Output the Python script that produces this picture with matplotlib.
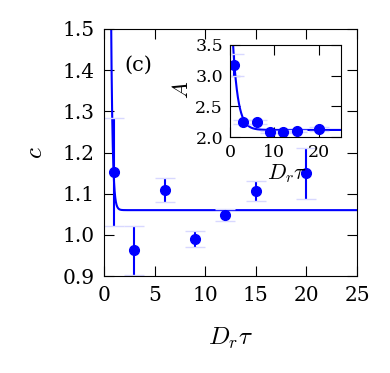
import numpy as np
import matplotlib
matplotlib.use('Agg')
import matplotlib.pyplot as plt

plt.rcParams['font.family'] = 'DejaVu Serif'
plt.rcParams['mathtext.fontset'] = 'cm'

# main panel: c vs D_r tau
drt = [1, 3, 6, 9, 12, 15, 20]
c_vals = [1.153, 0.962, 1.108, 0.990, 1.048, 1.106, 1.149]
c_err = [0.131, 0.060, 0.029, 0.019, 0.014, 0.024, 0.062]
# fit c = c_inf + a*exp(-x/b)
c_inf, c_a, c_b = 1.06, 50.0, 0.15

# inset: A vs D_r tau
drt_in = [1, 3, 6, 9, 12, 15, 20]
A_vals = [3.18, 2.25, 2.24, 2.08, 2.085, 2.10, 2.135]
A_err = [0.18, 0.03, 0.03, 0.02, 0.02, 0.02, 0.03]
A_inf, A_a, A_b = 2.115, 2.57, 1.13

blue = '#0000ff'
cap_col = '#d8d8ff'

fig = plt.figure(figsize=(3.9, 3.73), dpi=100)
ax = fig.add_axes([0.2667, 0.26, 0.6487, 0.6623])

xf = np.linspace(0.5, 25, 2000)
ax.plot(xf, c_inf + c_a * np.exp(-xf / c_b), color=blue, lw=1.5)
eb = ax.errorbar(drt, c_vals, yerr=c_err, fmt='o', color=blue, ms=7,
                 elinewidth=1.5, capsize=7, ecolor=blue)
for cap in eb[1]:
    cap.set_markeredgecolor(cap_col)
ax.set_xlim(0, 25)
ax.set_ylim(0.9, 1.5)
ax.set_xticks([0, 5, 10, 15, 20, 25])
ax.set_yticks([0.9, 1.0, 1.1, 1.2, 1.3, 1.4, 1.5])
ax.yaxis.set_major_formatter(matplotlib.ticker.FormatStrFormatter('%.1f'))
ax.tick_params(direction='in', top=True, right=True, length=7, labelsize=14.5, pad=7)
ax.set_xlabel(r'$D_r\tau$', fontsize=18, labelpad=15)
ax.set_ylabel(r'$c$', fontsize=18, labelpad=11)
ax.text(0.08, 0.855, '(c)', transform=ax.transAxes, fontsize=15, va='center')

# inset
ins = fig.add_axes([0.5897, 0.6327, 0.2847, 0.2467])
xi = np.linspace(0.3, 25, 2000)
ins.plot(xi, A_inf + A_a * np.exp(-xi / A_b), color=blue, lw=1.5)
eb2 = ins.errorbar(drt_in, A_vals, yerr=A_err, fmt='o', color=blue, ms=7,
                   elinewidth=1.5, capsize=7, ecolor=blue)
for cap in eb2[1]:
    cap.set_markeredgecolor(cap_col)
ins.set_xlim(0, 25)
ins.set_ylim(2.0, 3.5)
ins.set_xticks([0, 10, 20])
ins.set_yticks([2.0, 2.5, 3.0, 3.5])
ins.yaxis.set_major_formatter(matplotlib.ticker.FormatStrFormatter('%.1f'))
ins.tick_params(direction='in', top=True, right=True, length=7, labelsize=12.5, pad=5)
ins.set_xlabel(r'$D_r\tau$', fontsize=16)
ins.xaxis.set_label_coords(0.51, -0.27)
ins.set_ylabel(r'$A$', fontsize=16)
ins.yaxis.set_label_coords(-0.33, 0.51)

fig.savefig('out.png', dpi=100)
